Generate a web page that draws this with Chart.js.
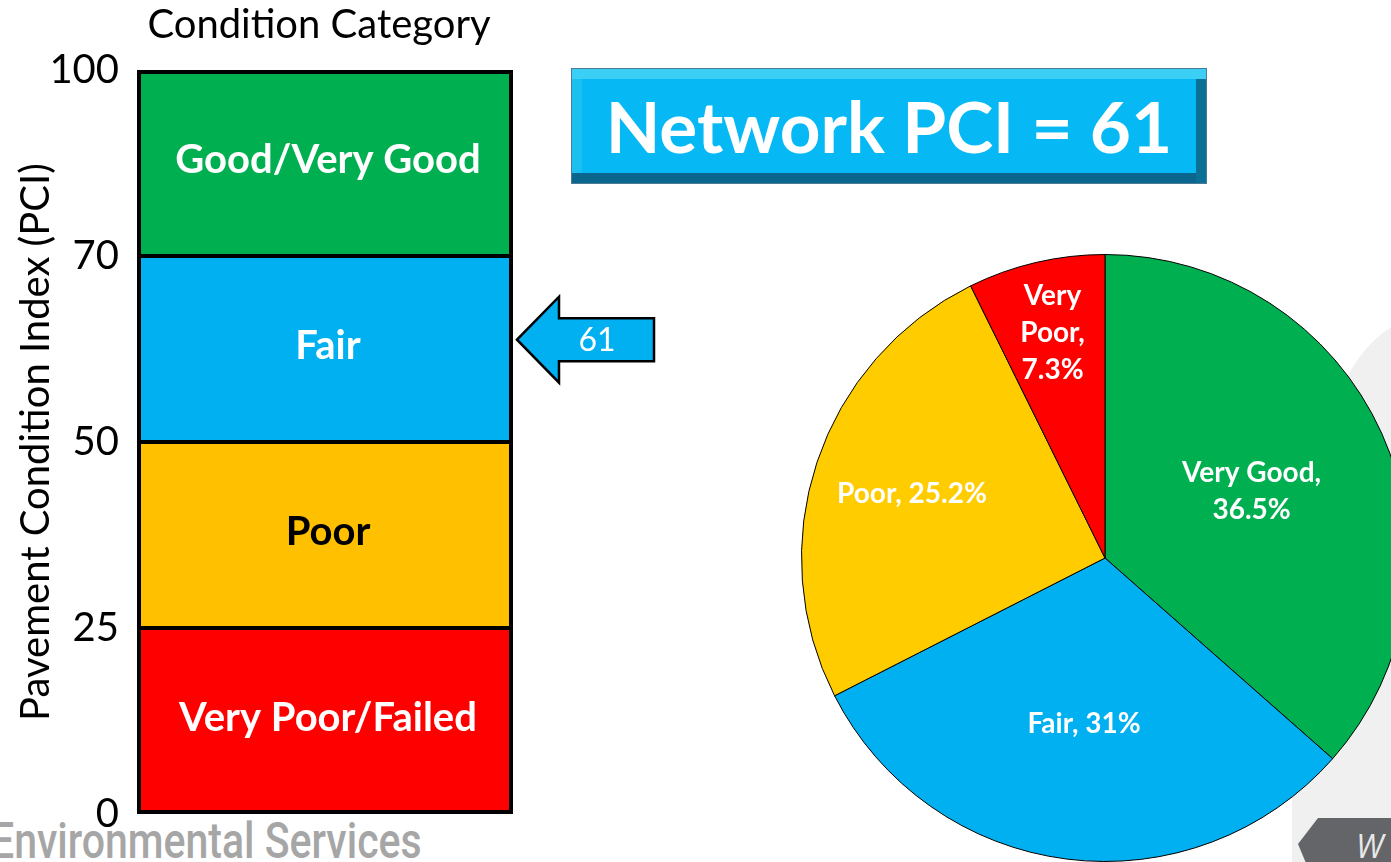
<!DOCTYPE html>
<html>
<head>
<meta charset="utf-8">
<script src="https://cdn.jsdelivr.net/npm/chart.js@4.4.1/dist/chart.umd.min.js"></script>
<style>
  html, body { margin: 0; padding: 0; background: #fff; }
  body { width: 1391px; height: 862px; overflow: hidden; position: relative; font-family: Lato, sans-serif; }
  #barWrap { position: absolute; left: 0; top: 0; z-index: 2; }
  #pieWrap { position: absolute; left: 785px; top: 238px; z-index: 2; }
  .swoosh { position: absolute; left: 1292px; top: 318px; width: 300px; height: 600px; background: #f0f0f1;
            border-top-left-radius: 130px 320px; z-index: 0; }
  .tab { position: absolute; left: 1298px; top: 818px; width: 100px; height: 50px; background: #636569;
         clip-path: polygon(20px 0, 100% 0, 100% 100%, 10px 100%, 0 26px); z-index: 3; }
  .tab span { position: absolute; left: 58px; top: 6px; font: italic 32px "Open Sans", sans-serif; color: #e8e8e8; }
  .brand { position: absolute; left: -9px; top: 812px; font: 500 50px "Liberation Sans Narrow", Roboto, sans-serif; color: #a6a6a6;
           z-index: 1; white-space: nowrap; transform: scaleX(0.82); transform-origin: left top; }
  .pciBox { position: absolute; left: 571px; top: 68px; width: 636px; height: 116px; box-sizing: border-box;
            border: 1px solid #4d7a96; background: #06b9f4; z-index: 3;
            box-shadow: inset 0 10px 0 #3ccff6, inset -10px 0 0 #0b6f96, inset 0 -10px 0 #0a668c, inset 10px 0 0 #1cc0ee;
            color: #fff; font: bold 71px Lato, sans-serif; text-align: center; line-height: 114px; }
</style>
</head>
<body>
<div class="swoosh"></div>
<div class="brand">Environmental Services</div>
<div class="tab"><span>W</span></div>
<div class="pciBox" id="pciBox"></div>
<div id="barWrap"><canvas id="barChart" width="700" height="862"></canvas></div>
<div id="pieWrap"><canvas id="pieChart" width="640" height="640"></canvas></div>

<script>
// left bar: condition bands, bottom to top
const bandNames = ["Very Poor/Failed", "Poor", "Fair", "Good/Very Good"];
const bandTicks = [0, 25, 50, 70, 100];
const networkPCI = 61;

// right pie: share of network by condition
const pieNames = ["Very Good", "Fair", "Poor", "Very Poor"];
const pieValues = [36.5, 31, 25.2, 7.3];

const bandColors = ["#FF0000", "#FFC000", "#00B0F0", "#00B050"];
const bandTextColors = ["#fff", "#000", "#fff", "#fff"];
const pieColors = ["#00B050", "#00B0F0", "#FFCC00", "#FF0000"];
const pieLabelRadius = [0.53, 0.55, 0.67, 0.76];
const pieWrapWidth = [150, 300, 300, 70];

document.getElementById("pciBox").textContent = "Network PCI = " + networkPCI;

// map a PCI value onto the band index axis (bands drawn equal height)
function pciToIndex(v) {
    for (let i = 0; i < bandTicks.length - 1; i++) {
        if (v <= bandTicks[i + 1]) {
            return i + (v - bandTicks[i]) / (bandTicks[i + 1] - bandTicks[i]);
        }
    }
    return bandTicks.length - 1;
}

const barDatasets = bandNames.map((name, i) => ({
    label: name,
    data: [1],
    backgroundColor: bandColors[i],
    borderColor: "#000",
    borderWidth: {
        left: 4, right: 4,
        top: i === bandNames.length - 1 ? 4 : 2,
        bottom: i === 0 ? 4 : 2
    },
    borderSkipped: false,
    inflateAmount: 0,
    barPercentage: 1,
    categoryPercentage: 1
}));

const barDecor = {
    id: "barDecor",
    afterDatasetsDraw(chart) {
        const ctx = chart.ctx;
        const area = chart.chartArea;
        ctx.save();
        // title
        ctx.fillStyle = "#000";
        ctx.font = "40px Lato";
        ctx.textAlign = "center";
        ctx.textBaseline = "middle";
        ctx.fillText("Condition Category", (area.left + area.right) / 2 - 6, 25);

        // band labels
        ctx.font = "bold 40px Lato";
        chart.data.datasets.forEach((ds, i) => {
            const bar = chart.getDatasetMeta(i).data[0];
            ctx.fillStyle = bandTextColors[i];
            ctx.fillText(ds.label, bar.x + 3, (bar.y + bar.base) / 2 - 3);
        });

        // arrow pointing at network PCI
        const y = chart.scales.y.getPixelForValue(pciToIndex(networkPCI));
        const tipX = area.right + 4;
        const headEnd = tipX + 42;
        const tailX = tipX + 137;
        ctx.beginPath();
        ctx.moveTo(tipX, y);
        ctx.lineTo(headEnd, y - 43);
        ctx.lineTo(headEnd, y - 21.5);
        ctx.lineTo(tailX, y - 21.5);
        ctx.lineTo(tailX, y + 21.5);
        ctx.lineTo(headEnd, y + 21.5);
        ctx.lineTo(headEnd, y + 43);
        ctx.closePath();
        ctx.fillStyle = "#00B0F0";
        ctx.fill();
        ctx.lineWidth = 2.5;
        ctx.strokeStyle = "#000";
        ctx.stroke();
        ctx.fillStyle = "#fff";
        ctx.font = "32px Lato";
        ctx.fillText(String(networkPCI), tipX + 80, y + 1);
        ctx.restore();
    }
};

new Chart(document.getElementById("barChart"), {
    type: "bar",
    data: { labels: ["PCI"], datasets: barDatasets },
    options: {
        responsive: false,
        animation: false,
        layout: { padding: { top: 70, bottom: 48, left: 0, right: 187 } },
        plugins: { legend: { display: false }, tooltip: { enabled: false } },
        scales: {
            x: { stacked: true, display: false },
            y: {
                stacked: true,
                min: 0,
                max: bandTicks.length - 1,
                grid: { display: false, drawTicks: false },
                border: { display: false },
                ticks: {
                    stepSize: 1,
                    padding: 18,
                    color: "#000",
                    font: { family: "Lato", size: 40 },
                    callback: (v) => bandTicks[v]
                },
                title: {
                    display: true,
                    text: "Pavement Condition Index (PCI)",
                    color: "#000",
                    font: { family: "Lato", size: 40 },
                    padding: { top: 12, bottom: 0 }
                },
                afterFit(scale) { scale.width = 137; }
            }
        }
    },
    plugins: [barDecor]
});

function wrapWords(ctx, text, maxW) {
    const words = text.split(" ");
    const lines = [];
    let cur = "";
    words.forEach(w => {
        const test = cur ? cur + " " + w : w;
        if (cur && ctx.measureText(test).width > maxW) {
            lines.push(cur);
            cur = w;
        } else {
            cur = test;
        }
    });
    lines.push(cur);
    return lines;
}

const pieLabels = {
    id: "pieLabels",
    afterDatasetsDraw(chart) {
        const ctx = chart.ctx;
        ctx.save();
        ctx.font = "bold 28px Lato";
        ctx.fillStyle = "#fff";
        ctx.textAlign = "center";
        ctx.textBaseline = "middle";
        chart.getDatasetMeta(0).data.forEach((arc, i) => {
            const mid = (arc.startAngle + arc.endAngle) / 2;
            const r = arc.outerRadius * pieLabelRadius[i];
            const cx = arc.x + Math.cos(mid) * r;
            const cy = arc.y + Math.sin(mid) * r;
            const lines = wrapWords(ctx, pieNames[i] + ", " + pieValues[i] + "%", pieWrapWidth[i]);
            const lh = 37;
            lines.forEach((ln, k) => {
                ctx.fillText(ln, cx, cy + (k - (lines.length - 1) / 2) * lh);
            });
        });
        ctx.restore();
    }
};

new Chart(document.getElementById("pieChart"), {
    type: "pie",
    data: {
        labels: pieNames,
        datasets: [{
            data: pieValues,
            backgroundColor: pieColors,
            borderColor: "#000",
            borderWidth: 1
        }]
    },
    options: {
        responsive: false,
        animation: false,
        layout: { padding: 16 },
        plugins: { legend: { display: false }, tooltip: { enabled: false } }
    },
    plugins: [pieLabels]
});
</script>
</body>
</html>
